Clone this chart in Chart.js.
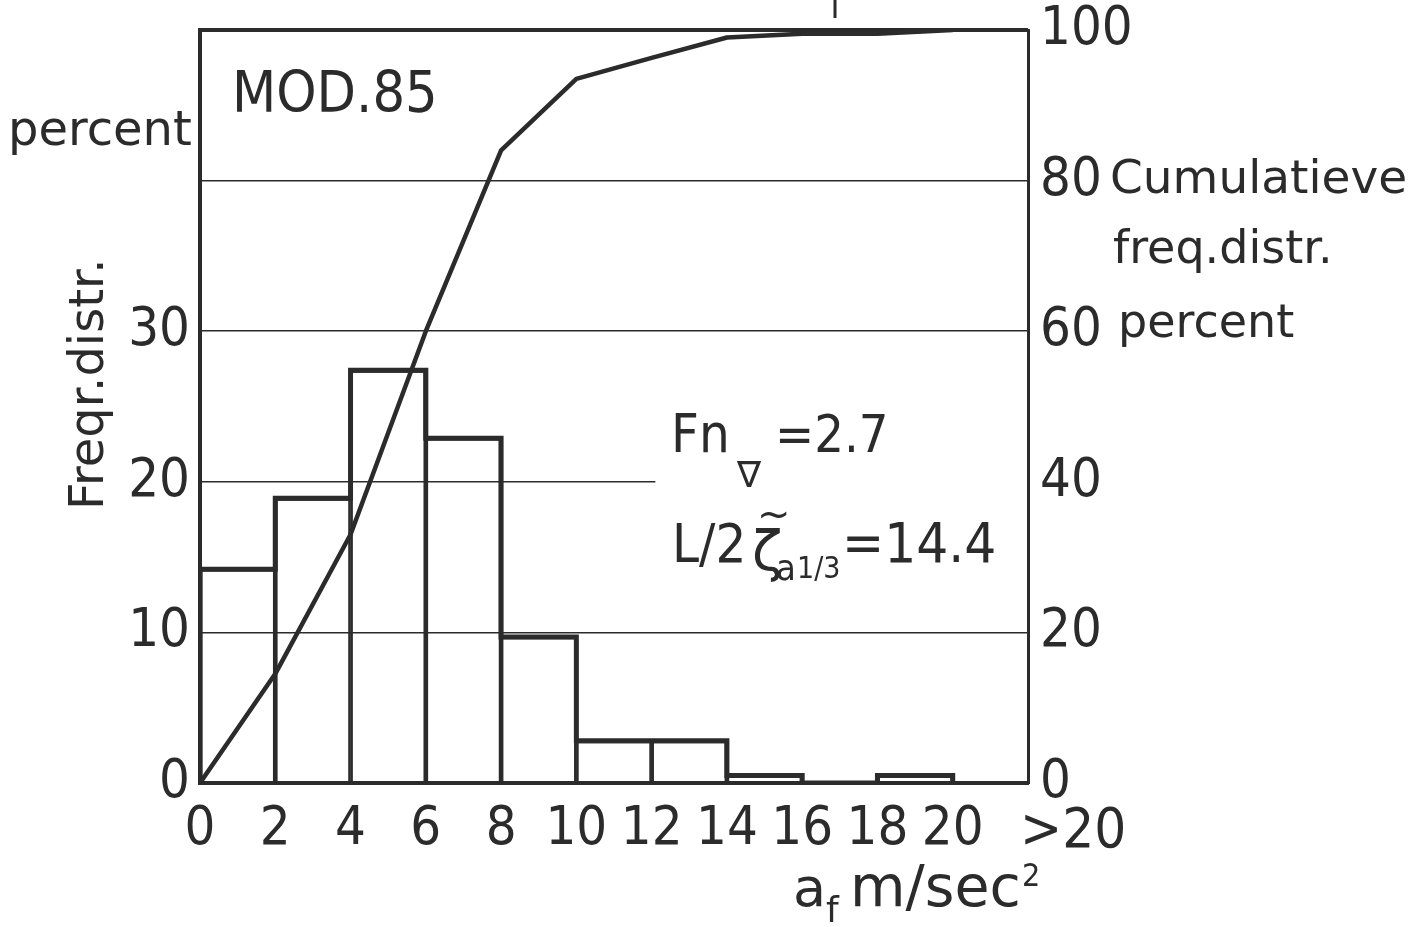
<!DOCTYPE html>
<html><head><meta charset="utf-8">
<script src="https://cdn.jsdelivr.net/npm/chart.js@4.4.1/dist/chart.umd.min.js"></script>
<style>html,body{margin:0;padding:0;background:#fff;} canvas{display:block}</style>
</head><body>
<canvas id="c" width="1417" height="927"></canvas>
<script>
// ---- data ----
const binStarts = [0, 2, 4, 6, 8, 10, 12, 14, 16, 18];
const binWidth = 2;
const freqPercent = [14.2, 18.9, 27.4, 22.9, 9.7, 2.8, 2.8, 0.5, 0, 0.5];
const cumX = [0, 2, 4, 6, 8, 10, 12, 14, 16, 18, 20];
const cumPercent = [0, 14.5, 33, 60, 84, 93.5, 96.3, 99, 99.5, 99.5, 100];
const xTickValues = [0, 2, 4, 6, 8, 10, 12, 14, 16, 18, 20];
const xExtraLabel = '>20';
const xExtraPos = 23.2;
const leftTickValues = [0, 10, 20, 30, 40, 50];
const leftTickLabels = ['0', '10', '20', '30', '', ''];
const rightTickValues = [0, 20, 40, 60, 80, 100];
const fullGridLevels = [10, 30, 40];
const partialGridLevel = 20;
const partialGridEnd = 12.1;

const ink = '#2b2b2b';
const numFont = "'DejaVu Sans Condensed','Liberation Sans Narrow','DejaVu Sans',sans-serif";
const wordFont = "'DejaVu Sans',sans-serif";
const tickFontX = {family: numFont, size: 54, lineHeight: 1};
const tickFontY = {family: numFont, size: 54, lineHeight: 0.5};

const barData = binStarts.map((s, i) => ({x: s + binWidth / 2, y: freqPercent[i]}));
const stepData = [{x: binStarts[0], y: 0}]
  .concat(binStarts.map((s, i) => ({x: s, y: freqPercent[i]})))
  .concat([{x: binStarts[binStarts.length - 1] + binWidth, y: freqPercent[freqPercent.length - 1]},
           {x: binStarts[binStarts.length - 1] + binWidth, y: 0}]);
const cumData = cumX.map((x, i) => ({x, y: cumPercent[i]}));
const partialGridData = [{x: 0, y: partialGridLevel}, {x: partialGridEnd, y: partialGridLevel}];

const annot = {
  id: 'annot',
  afterDraw(chart) {
    const ctx = chart.ctx;
    const xs = chart.scales.x;
    ctx.save();
    ctx.fillStyle = ink;
    ctx.textBaseline = 'alphabetic';
    const t = (s, x, y, f, align = 'left') => { ctx.font = f; ctx.textAlign = align; ctx.fillText(s, x, y); };
    t('percent', 8, 145, `48px ${wordFont}`);
    t('MOD.85', 232, 112, `57px ${numFont}`);
    t('Cumulatieve', 1110, 193, `47px ${wordFont}`);
    t('freq.distr.', 1113, 263, `46px ${wordFont}`);
    t('percent', 1118, 337, `46px ${wordFont}`);
    // rotated left title
    ctx.save();
    ctx.translate(103, 510);
    ctx.rotate(-Math.PI / 2);
    t('Freqr.distr.', 0, 0, `48px ${wordFont}`);
    ctx.restore();
    // annotations
    t('Fn', 671, 452, `54px ${numFont}`);
    t('\u2207', 737, 487, `36px ${wordFont}`);
    t('=2.7', 775, 452, `52px ${numFont}`);
    t('L/2', 672, 562, `54px ${numFont}`);
    t('\u03B6', 752, 570, `56px ${wordFont}`);
    t('~', 757, 528, `40px ${wordFont}`);
    t('a', 776, 580, `36px ${numFont}`);
    t('1/3', 797, 578, `30px ${numFont}`);
    t('=14.4', 842, 562, `56px ${numFont}`);
    // x-axis title
    t('a', 793, 906, `54px ${wordFont}`);
    t('f', 826, 922, `36px ${wordFont}`);
    t('m/sec', 850, 906, `57px ${wordFont}`);
    t('2', 1022, 886, `32px ${numFont}`);
    // extra x label
    t(xExtraLabel, xs.getPixelForValue(xExtraPos), 847, `56px ${numFont}`, 'center');
    // small mark above frame
    ctx.strokeStyle = ink; ctx.lineWidth = 3;
    ctx.beginPath(); ctx.moveTo(835, 0); ctx.lineTo(835, 18); ctx.stroke();
    ctx.restore();
  }
};

new Chart(document.getElementById('c'), {
  data: {
    datasets: [
      {type: 'bar', data: barData, xAxisID: 'x', yAxisID: 'y',
       backgroundColor: 'rgba(0,0,0,0)', borderColor: ink, borderWidth: 2,
       barPercentage: 1, categoryPercentage: 1, order: 3},
      {type: 'line', data: stepData, xAxisID: 'x', yAxisID: 'y', stepped: 'before',
       borderColor: ink, borderWidth: 5, pointRadius: 0, fill: false,
       borderJoinStyle: 'miter', order: 2},
      {type: 'line', data: partialGridData, xAxisID: 'x', yAxisID: 'y',
       borderColor: ink, borderWidth: 1.5, pointRadius: 0, fill: false, order: 4},
      {type: 'line', data: cumData, xAxisID: 'x', yAxisID: 'y2',
       borderColor: ink, borderWidth: 4.5, pointRadius: 0, fill: false, tension: 0,
       borderJoinStyle: 'round', order: 1}
    ]
  },
  options: {
    responsive: false,
    animation: false,
    events: [],
    layout: {padding: {top: 30, left: 0, right: 0, bottom: 0}},
    plugins: {legend: {display: false}, tooltip: {enabled: false}, title: {display: false}},
    scales: {
      x: {
        type: 'linear', min: 0, max: 22, position: 'bottom', offset: false,
        afterBuildTicks: s => { s.ticks = xTickValues.map(v => ({value: v})); },
        afterFit: s => { s.height = 144; },
        ticks: {font: tickFontX, color: ink, padding: 20, maxRotation: 0, autoSkip: false},
        grid: {display: false, drawTicks: false, offset: false},
        border: {display: true, color: ink, width: 4}
      },
      y: {
        type: 'linear', min: 0, max: 50, position: 'left',
        afterBuildTicks: s => { s.ticks = leftTickValues.map(v => ({value: v})); },
        afterFit: s => { s.width = 200; },
        ticks: {font: tickFontY, color: ink, padding: 10,
                callback: (v) => leftTickLabels[leftTickValues.indexOf(v)]},
        grid: {
          drawTicks: false,
          color: c => (c.tick && (fullGridLevels.includes(c.tick.value) || c.tick.value === 50)) ? ink : 'rgba(0,0,0,0)',
          lineWidth: c => (c.tick && c.tick.value === 50) ? 4 : 1.5
        },
        border: {display: true, color: ink, width: 4}
      },
      y2: {
        type: 'linear', min: 0, max: 100, position: 'right',
        afterBuildTicks: s => { s.ticks = rightTickValues.map(v => ({value: v})); },
        afterFit: s => { s.width = 389; },
        ticks: {font: tickFontY, color: ink, padding: 12},
        grid: {display: false, drawTicks: false},
        border: {display: true, color: ink, width: 3}
      }
    }
  },
  plugins: [annot]
});
</script>
</body></html>
